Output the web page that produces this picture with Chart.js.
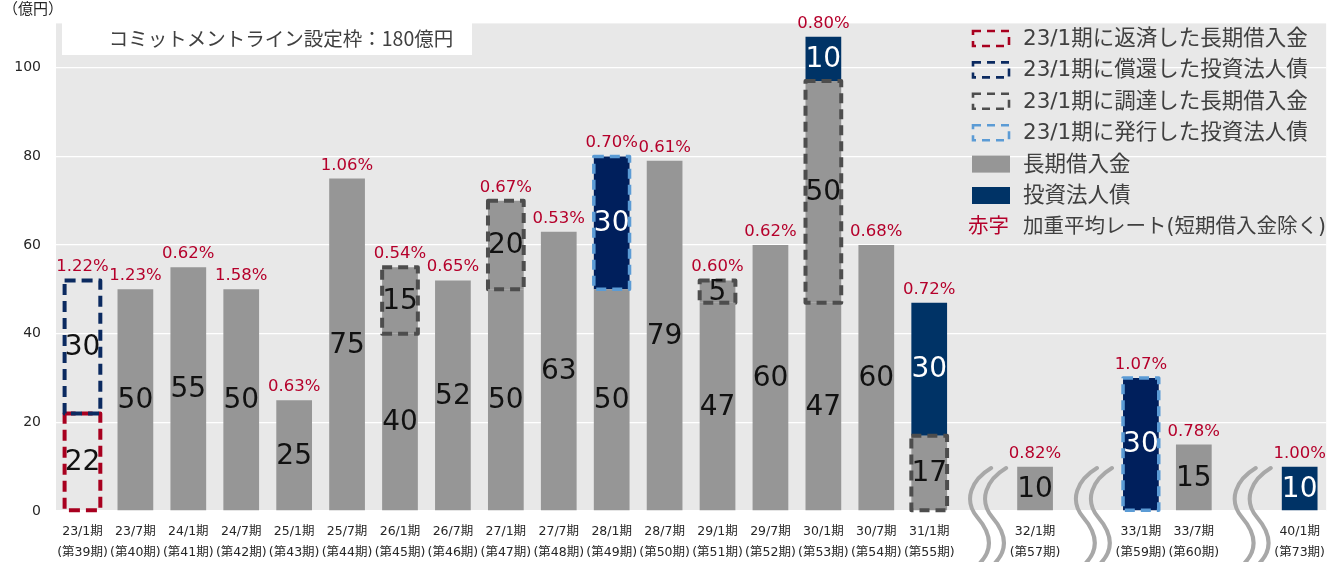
<!DOCTYPE html>
<html>
<head>
<meta charset="utf-8">
<script src="https://cdn.jsdelivr.net/npm/chart.js@4.4.0/dist/chart.umd.min.js"></script>
<style>
  html, body { margin: 0; padding: 0; background: #fff; }
</style>
</head>
<body>
<canvas id="chart" width="1335" height="562"></canvas>
<script>
// slots on the x axis; '' marks a break (squiggle)
const periods = ['23/1期','23/7期','24/1期','24/7期','25/1期','25/7期','26/1期','26/7期','27/1期','27/7期',
  '28/1期','28/7期','29/1期','29/7期','30/1期','30/7期','31/1期','','32/1期','','33/1期','33/7期','','40/1期'];
const fiscalNo = ['(第39期)','(第40期)','(第41期)','(第42期)','(第43期)','(第44期)','(第45期)','(第46期)','(第47期)','(第48期)',
  '(第49期)','(第50期)','(第51期)','(第52期)','(第53期)','(第54期)','(第55期)','','(第57期)','','(第59期)','(第60期)','','(第73期)'];

const repaidLoans   = [22,null,null,null,null,null,null,null,null,null,null,null,null,null,null,null,null,null,null,null,null,null,null,null];
const longTermLoans = [null,50,55,50,25,75,40,52,50,63,50,79,47,60,47,60,null,null,10,null,null,15,null,null];
const newLoans      = [null,null,null,null,null,null,15,null,20,null,null,null,5,null,50,null,17,null,null,null,null,null,null,null];
const newBonds      = [null,null,null,null,null,null,null,null,null,null,30,null,null,null,null,null,null,null,null,null,30,null,null,null];
const bonds         = [null,null,null,null,null,null,null,null,null,null,null,null,null,null,10,null,30,null,null,null,null,null,null,10];
const redeemedBonds = [30,null,null,null,null,null,null,null,null,null,null,null,null,null,null,null,null,null,null,null,null,null,null,null];
const rates = ['1.22%','1.23%','0.62%','1.58%','0.63%','1.06%','0.54%','0.65%','0.67%','0.53%','0.70%','0.61%','0.60%','0.62%',
  '0.80%','0.68%','0.72%',null,'0.82%',null,'1.07%','0.78%',null,'1.00%'];

const FONT = '"DejaVu Sans", "Noto Sans CJK JP", sans-serif';
const CJK = '"Noto Sans CJK JP", sans-serif';
const GRAY = '#969696', NAVY = '#003366', NAVY2 = '#001f5c', RED = '#b5002b';

const labels = periods.map((p, i) => [p, fiscalNo[i]]);

const datasets = [
  { label: '23/1期に返済した長期借入金', data: repaidLoans, backgroundColor: 'rgba(0,0,0,0)', dashColor: '#a8001f', dash: [11, 6], dashWidth: 4, textColor: '#111' },
  { label: '長期借入金', data: longTermLoans, backgroundColor: GRAY, textColor: '#111' },
  { label: '23/1期に調達した長期借入金', data: newLoans, backgroundColor: GRAY, dashColor: '#4d4d4d', dash: [10, 6], dashWidth: 4, textColor: '#111' },
  { label: '23/1期に発行した投資法人債', data: newBonds, backgroundColor: NAVY2, dashColor: '#5b9bd5', dash: [10, 6], dashWidth: 3.5, textColor: '#fff' },
  { label: '投資法人債', data: bonds, backgroundColor: NAVY, textColor: '#fff' },
  { label: '23/1期に償還した投資法人債', data: redeemedBonds, backgroundColor: 'rgba(0,0,0,0)', dashColor: '#0b2a60', dash: [11, 6], dashWidth: 4, textColor: '#111' }
];
datasets.forEach(d => { d.barPercentage = 0.675; d.categoryPercentage = 1; d.borderWidth = 0; });

const legendOrder = [0, 5, 2, 3, 1, 4];
const breakSlots = periods.map((p, i) => p === '' ? i : -1).filter(i => i >= 0);

const decorations = {
  id: 'decorations',
  beforeDraw(chart) {
    const { ctx, chartArea: a } = chart;
    ctx.save();
    ctx.fillStyle = '#e8e8e8';
    ctx.fillRect(a.left, a.top, a.right - a.left, a.bottom - a.top);
    ctx.restore();
  },
  afterDatasetsDraw(chart) {
    const { ctx } = chart;
    const yScale = chart.scales.y;
    ctx.save();
    // dashed outlines
    chart.data.datasets.forEach((ds, di) => {
      if (!ds.dashColor) return;
      const meta = chart.getDatasetMeta(di);
      ds.data.forEach((v, i) => {
        if (v == null) return;
        const el = meta.data[i];
        const l = el.x - el.width / 2;
        ctx.strokeStyle = ds.dashColor;
        ctx.lineWidth = ds.dashWidth;
        ctx.lineJoin = 'round';
        ctx.setLineDash(ds.dash);
        ctx.strokeRect(l, el.y, el.width, el.base - el.y);
      });
    });
    ctx.setLineDash([]);
    // values in segments
    ctx.textAlign = 'center';
    ctx.textBaseline = 'middle';
    ctx.font = '28px ' + FONT;
    chart.data.datasets.forEach((ds, di) => {
      const meta = chart.getDatasetMeta(di);
      ds.data.forEach((v, i) => {
        if (v == null) return;
        const el = meta.data[i];
        ctx.fillStyle = ds.textColor;
        ctx.fillText(String(v), el.x, (el.y + el.base) / 2 + 1);
      });
    });
    // rates above each stack
    ctx.font = '16.5px ' + FONT;
    ctx.fillStyle = RED;
    ctx.textBaseline = 'alphabetic';
    rates.forEach((r, i) => {
      if (!r) return;
      let total = 0;
      chart.data.datasets.forEach(ds => { total += ds.data[i] || 0; });
      const x = chart.scales.x.getPixelForValue(i);
      ctx.fillText(r, x, yScale.getPixelForValue(total) - 9);
    });
    ctx.restore();
  },
  afterDraw(chart) {
    const { ctx } = chart;
    ctx.save();
    // unit
    ctx.fillStyle = '#262626';
    ctx.font = '15px ' + CJK;
    ctx.textAlign = 'left';
    ctx.textBaseline = 'middle';
    ctx.fillText('（億円）', 3, 8);
    // commitment line box
    ctx.fillStyle = '#fff';
    ctx.fillRect(62, 22, 410, 33);
    ctx.fillStyle = '#404040';
    ctx.font = '19.5px ' + CJK;
    ctx.textAlign = 'center';
    ctx.fillText('コミットメントライン設定枠：180億円', 281, 39);
    // legend
    ctx.textAlign = 'left';
    ctx.font = '21.5px ' + FONT;
    const rowY = i => 38.5 + i * 31.4;
    legendOrder.forEach((di, r) => {
      const ds = chart.data.datasets[di];
      const y = rowY(r);
      if (ds.dashColor) {
        ctx.strokeStyle = ds.dashColor;
        ctx.lineWidth = 2.6;
        ctx.setLineDash([8, 6]);
        ctx.strokeRect(973, y - 7.5, 36, 15);
        ctx.setLineDash([]);
      } else {
        ctx.fillStyle = ds.backgroundColor;
        ctx.fillRect(972, y - 8.5, 38, 17);
      }
      ctx.fillStyle = '#404040';
      ctx.fillText(ds.label, 1023, y + 1);
    });
    const y7 = rowY(6);
    ctx.font = '20.5px ' + FONT;
    ctx.fillStyle = RED;
    ctx.fillText('赤字', 968, y7 + 1);
    ctx.fillStyle = '#404040';
    ctx.fillText('加重平均レート(短期借入金除く)', 1023, y7 + 1);
    // axis break squiggles
    ctx.strokeStyle = '#a8a8a8';
    ctx.lineWidth = 4;
    ctx.lineCap = 'round';
    breakSlots.forEach(i => {
      const cx = chart.scales.x.getPixelForValue(i) + 3;
      [0, 15].forEach(off => {
        const x = cx + off;
        ctx.beginPath();
        ctx.moveTo(x + 6, 468);
        ctx.bezierCurveTo(x - 14, 480, x - 22, 500, x - 8, 517);
        ctx.bezierCurveTo(x + 4, 531, x + 10, 548, x - 6, 564);
        ctx.stroke();
      });
    });
    ctx.restore();
  }
};

new Chart(document.getElementById('chart'), {
  type: 'bar',
  data: { labels: labels, datasets: datasets },
  plugins: [decorations],
  options: {
    responsive: false,
    animation: false,
    devicePixelRatio: 1,
    layout: { padding: { top: 19, right: 0, left: 0, bottom: 0 } },
    plugins: { legend: { display: false }, tooltip: { enabled: false } },
    scales: {
      x: {
        stacked: true,
        grid: { display: false, drawTicks: false },
        border: { display: false },
        ticks: { color: '#262626', font: { family: FONT, size: 12.5, lineHeight: 1.7 }, padding: 10, maxRotation: 0, autoSkip: false },
        afterFit(s) { s.height = 51; }
      },
      y: {
        stacked: true,
        min: 0,
        max: 110,
        grid: { color: '#ffffff', lineWidth: 1.3, drawTicks: false },
        border: { display: false },
        ticks: { stepSize: 20, includeBounds: false, color: '#262626', font: { family: FONT, size: 14 }, padding: 15 },
        afterFit(s) { s.width = 56; }
      }
    }
  }
});
</script>
</body>
</html>
